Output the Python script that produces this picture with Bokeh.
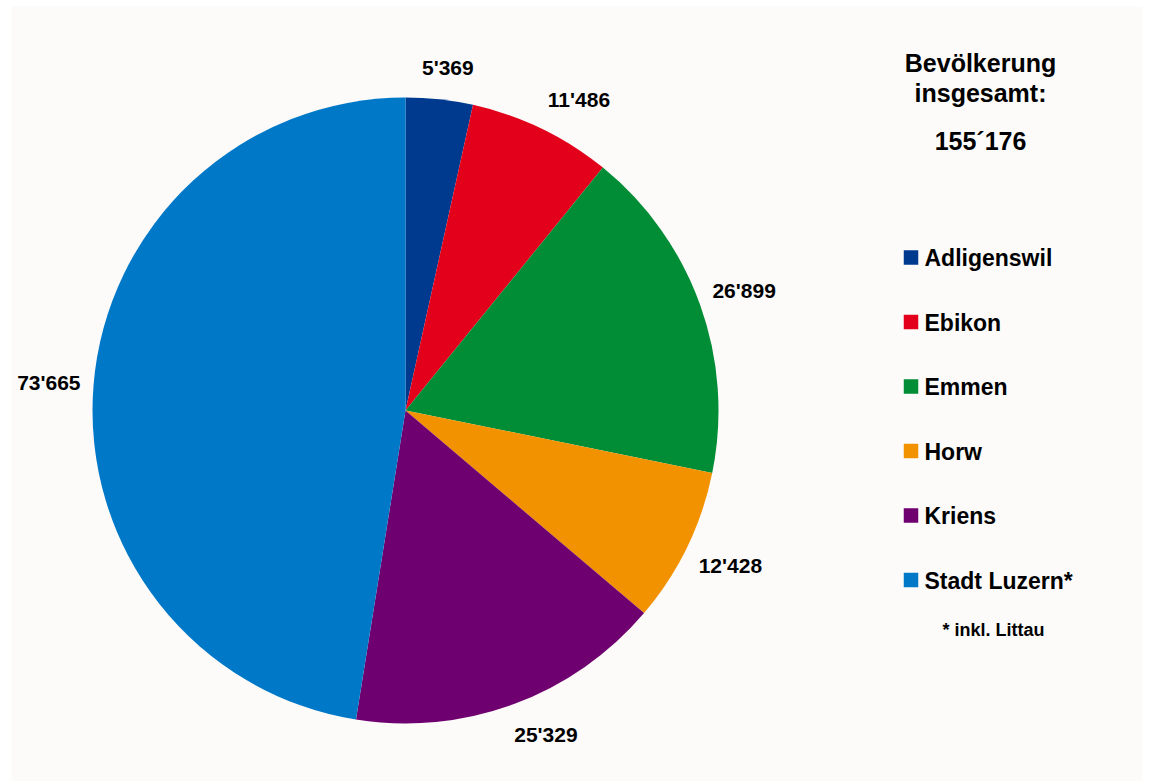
import math
from bokeh.plotting import figure
from bokeh.models import Range1d, ColumnDataSource
from bokeh.core.properties import value
from bokeh.embed import file_html
from bokeh.resources import INLINE

# ---- data ----
categories = ["Adligenswil", "Ebikon", "Emmen", "Horw", "Kriens", "Stadt Luzern*"]
populations = [5369, 11486, 26899, 12428, 25329, 73665]
value_labels = ["5'369", "11'486", "26'899", "12'428", "25'329", "73'665"]
colors = ["#003a8f", "#e2001a", "#008d36", "#f39200", "#6f006f", "#0078c8"]
title_lines = ["Bevölkerung", "insgesamt:"]
total_label = "155´176"
footnote = "* inkl. Littau"

W, H = 1149, 781
FONT = "Liberation Sans"

p = figure(width=W, height=H, x_range=Range1d(0, W), y_range=Range1d(0, H),
           output_backend="svg", toolbar_location=None, min_border=0)
p.axis.visible = False
p.grid.visible = False
p.outline_line_color = None
p.background_fill_color = "white"
p.border_fill_color = "white"

# chart area background
p.quad(left=11, right=1142, bottom=0, top=H - 6, fill_color="#fcfbfa", line_color=None)

# ---- pie ----
cx, cy, R = 405, H - 410, 313
total = sum(populations)
starts, ends, mids = [], [], []
cum = 0
for v in populations:
    a0 = math.pi / 2 - 2 * math.pi * cum / total
    cum += v
    a1 = math.pi / 2 - 2 * math.pi * cum / total
    starts.append(a1)
    ends.append(a0)
    mids.append((a0 + a1) / 2)

src = ColumnDataSource(dict(x=[cx] * len(populations), y=[cy] * len(populations),
                            start=starts, end=ends, color=colors))
p.wedge(x="x", y="y", radius=R, start_angle="start", end_angle="end",
        direction="anticlock", fill_color="color", line_color=None, source=src)

# ---- value labels (outside end) ----
LBL_SIZE = 21
DX, DY, K = 326, 337, 2.5


def text_width(s, size):
    return sum(0.238 if ch == "'" else 0.556 for ch in s) * size


def clamp(v):
    return max(-1.0, min(1.0, v))


lx, ly = [], []
for a, s in zip(mids, value_labels):
    ux, uy = math.cos(a), math.sin(a)
    hw = text_width(s, LBL_SIZE) / 2
    hh = 7.5
    lx.append(cx + DX * ux + hw * clamp(K * ux))
    ly.append(cy + DY * uy + hh * clamp(K * uy))
p.text(x=lx, y=ly, text=value_labels, text_align="center", text_baseline="middle",
       text_font=value(FONT), text_font_style="bold", text_font_size=f"{LBL_SIZE}px",
       text_color="#000000")

# ---- title ----
p.text(x=[980, 980], y=[H - 62.5, H - 92], text=title_lines, text_align="center",
       text_baseline="middle", text_font=value(FONT), text_font_style="bold",
       text_font_size="25px", text_color="#000000")
p.text(x=[980], y=[H - 140], text=[total_label], text_align="center",
       text_baseline="middle", text_font=value(FONT), text_font_style="bold",
       text_font_size="25px", text_color="#000000")

# ---- legend ----
leg_y = [H - (257 + 64.5 * i) for i in range(len(categories))]
p.rect(x=[910.5] * len(categories), y=leg_y, width=14.5, height=14.5,
       fill_color=colors, line_color=None)
p.text(x=[924] * len(categories), y=[y - 0.5 for y in leg_y], text=categories,
       text_align="left", text_baseline="middle", text_font=value(FONT),
       text_font_style="bold", text_font_size="23px", text_color="#000000")

p.text(x=[993], y=[H - 629.5], text=[footnote], text_align="center",
       text_baseline="middle", text_font=value(FONT), text_font_style="bold",
       text_font_size="18px", text_color="#000000")

open("out.html", "w").write(file_html(p, INLINE))
